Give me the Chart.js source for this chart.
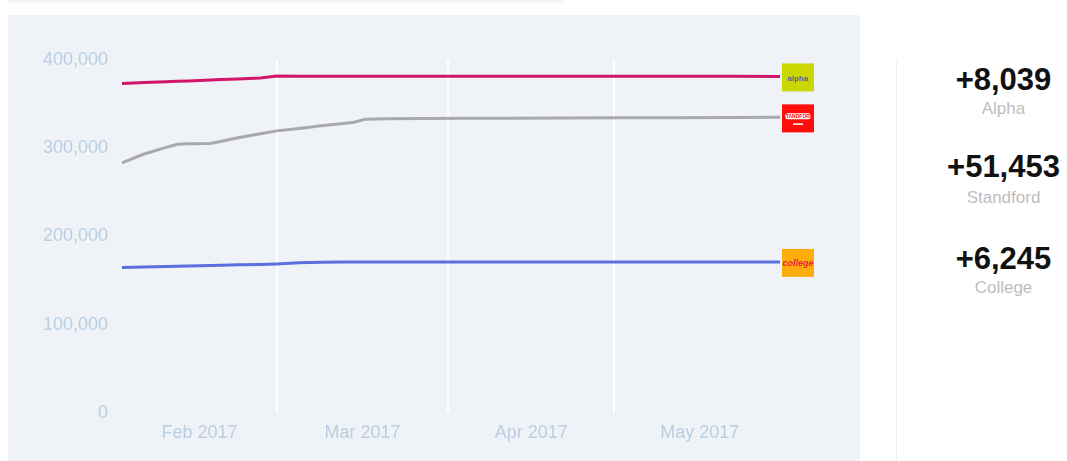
<!DOCTYPE html>
<html>
<head>
<meta charset="utf-8">
<script src="https://cdn.jsdelivr.net/npm/chart.js@4.4.0/dist/chart.umd.min.js"></script>
<style>
  body { margin: 0; background: #fff; font-family: "Liberation Sans", Arial, sans-serif; }
  #topbar { position: absolute; left: 8px; top: 0; width: 555px; height: 3px; background: #f3f4f5; }
  #panel { position: absolute; left: 8px; top: 15px; width: 852px; height: 446px; background: #eff3f7; }
  #sep { position: absolute; left: 896px; top: 60px; width: 1px; height: 401px; background: #f0f0f0; }
  .num { position: absolute; left: 940px; width: 127px; text-align: center; font-size: 31px; line-height: 31px; font-weight: bold; color: #111; }
  .lbl { position: absolute; left: 940px; width: 127px; text-align: center; font-size: 17px; line-height: 17px; color: #bdbdbd; }
</style>
</head>
<body>
<div id="topbar"></div>
<div id="panel"><canvas id="chart" width="852" height="446"></canvas></div>
<div id="sep"></div>
<div id="summary"></div>
<script>
// day index, 0 = 1 Feb 2017, 119 = 31 May 2017
const days = [0, 4, 8, 10, 12, 16, 18, 21, 25, 28, 32, 36, 40, 42, 44, 48, 55, 62, 70, 80, 90, 100, 110, 119];

const alpha = [373400, 374400, 375300, 375800, 376300, 377300, 377800, 378500, 379500, 381800, 381700, 381700, 381700, 381700, 381600, 381600, 381500, 381500, 381500, 381600, 381600, 381500, 381500, 381400];
const standford = [283500, 293500, 301000, 304600, 305000, 305400, 308000, 312000, 316500, 319700, 322500, 325500, 328000, 329500, 333000, 333500, 333700, 334000, 334000, 334200, 334500, 334700, 334800, 335000];
const college = [165000, 165500, 166000, 166300, 166600, 167200, 167500, 167900, 168300, 168900, 170200, 170900, 171100, 171100, 171100, 171100, 171100, 171100, 171200, 171200, 171200, 171200, 171200, 171200];

const seriesNames = ["Alpha", "Standford", "College"];
const changeLabels = ["+8,039", "+51,453", "+6,245"];

const monthLabels = ["Feb 2017", "Mar 2017", "Apr 2017", "May 2017"];
const monthStarts = [0, 28, 59, 89];
const lastDay = 119;
const yTicks = [0, 100000, 200000, 300000, 400000];

// summary column on the right
const numTops = [64, 151, 243];
const lblTops = [100, 189, 279];
let html = "";
seriesNames.forEach((n, i) => {
  html += `<div class="num" style="top:${numTops[i]}px">${changeLabels[i]}</div>`;
  html += `<div class="lbl" style="top:${lblTops[i]}px">${n}</div>`;
});
document.getElementById("summary").innerHTML = html;

// label positions in the middle of each month, grid lines on month starts
const monthMids = monthStarts.map((s, i) => (s + (i + 1 < monthStarts.length ? monthStarts[i + 1] : lastDay + 1)) / 2);
const boundaries = monthStarts.slice(1);

const toPts = arr => arr.map((v, i) => ({ x: days[i], y: v }));

const logos = [
  { bg: "#cad700", text: "alpha", color: "#5b5ba8", font: "bold 8px 'Liberation Sans'" },
  { bg: "#ff0d0d", text: "STANDFORD", color: "#ff0d0d", pill: true, font: "bold 5px 'Liberation Sans'" },
  { bg: "#ffad0a", text: "college", color: "#e8243c", font: "italic bold 9px 'Liberation Sans'" }
];

const logoPlugin = {
  id: "logos",
  afterDatasetsDraw(chart) {
    const ctx = chart.ctx;
    chart.data.datasets.forEach((ds, i) => {
      const meta = chart.getDatasetMeta(i);
      const p = meta.data[meta.data.length - 1];
      const lg = logos[i];
      const x = p.x + 2, y = p.y - 13, w = 32, h = 28;
      ctx.save();
      ctx.fillStyle = lg.bg;
      ctx.fillRect(x, y, w, h);
      ctx.textAlign = "center";
      ctx.textBaseline = "middle";
      if (lg.pill) {
        ctx.fillStyle = "#fff";
        ctx.beginPath();
        ctx.roundRect(x + 3, y + 9, w - 6, 6, 3);
        ctx.fill();
        ctx.fillStyle = lg.color;
        ctx.font = lg.font;
        ctx.fillText(lg.text, x + w / 2, y + 12);
        ctx.fillStyle = "#fff";
        ctx.fillRect(x + 11, y + 19, 10, 1.5);
      } else {
        ctx.fillStyle = lg.color;
        ctx.font = lg.font;
        ctx.fillText(lg.text, x + w / 2, y + h / 2 + 1);
      }
      ctx.restore();
    });
  }
};

const tickFont = { family: "'Liberation Sans', Arial, sans-serif", size: 18 };

new Chart(document.getElementById("chart"), {
  type: "line",
  data: {
    datasets: [
      { label: seriesNames[0], data: toPts(alpha), borderColor: "#d1156b", borderWidth: 3, pointRadius: 0, tension: 0 },
      { label: seriesNames[1], data: toPts(standford), borderColor: "#a9a9a9", borderWidth: 3, pointRadius: 0, tension: 0 },
      { label: seriesNames[2], data: toPts(college), borderColor: "#5b6ee0", borderWidth: 3, pointRadius: 0, tension: 0 }
    ]
  },
  options: {
    responsive: false,
    animation: false,
    devicePixelRatio: 1,
    layout: { padding: { top: 45, right: 80, left: 0, bottom: 0 } },
    plugins: { legend: { display: false }, tooltip: { enabled: false } },
    scales: {
      x: {
        type: "linear",
        min: 0,
        max: lastDay,
        border: { display: false },
        afterBuildTicks: s => {
          s.ticks = monthMids.concat(boundaries).sort((a, b) => a - b).map(v => ({ value: v }));
        },
        afterFit: s => { s.height = 48; },
        grid: {
          drawTicks: false,
          lineWidth: 2,
          color: c => (c.tick && boundaries.includes(c.tick.value)) ? "#ffffff" : "rgba(0,0,0,0)"
        },
        ticks: {
          autoSkip: false,
          maxRotation: 0,
          padding: 9,
          color: "#b9cee2",
          font: tickFont,
          callback: v => {
            const i = monthMids.indexOf(v);
            return i >= 0 ? monthLabels[i] : "";
          }
        }
      },
      y: {
        min: 0,
        max: 400000,
        border: { display: false },
        grid: { display: false, drawTicks: false },
        afterBuildTicks: s => { s.ticks = yTicks.map(v => ({ value: v })); },
        afterFit: s => { s.width = 114; },
        ticks: {
          padding: 14,
          color: "#b9cee2",
          font: tickFont,
          callback: v => v.toLocaleString("en-US")
        }
      }
    }
  },
  plugins: [logoPlugin]
});
</script>
</body>
</html>
